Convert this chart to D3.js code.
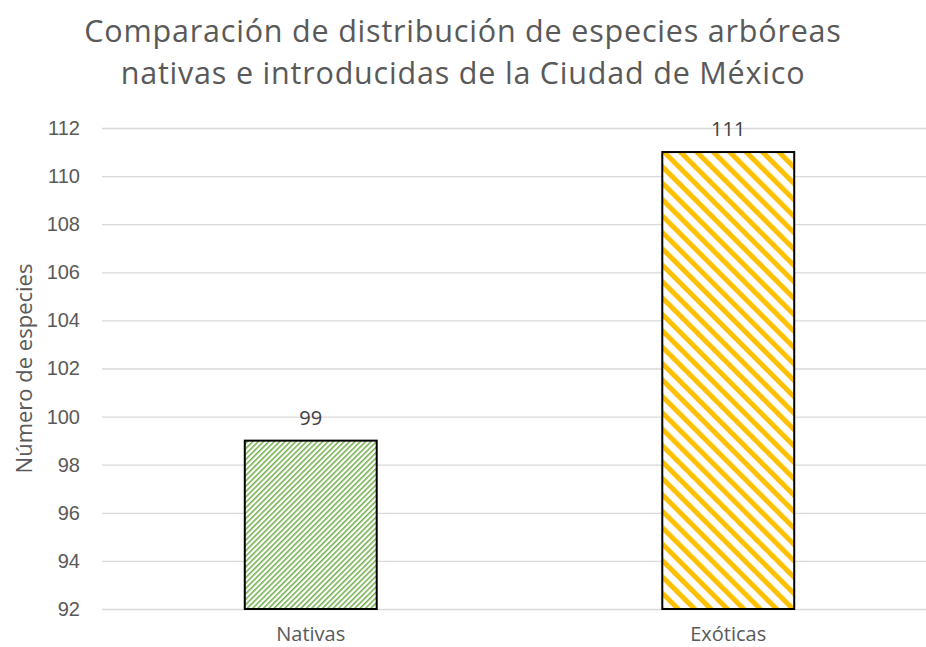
<!DOCTYPE html>
<html>
<head>
<meta charset="utf-8">
<script src="https://cdn.jsdelivr.net/npm/d3@7"></script>
<style>
  body { margin: 0; background: #fff; }
  svg { display: block; font-family: "Open Sans", sans-serif; }
</style>
</head>
<body>
<div id="chart"></div>
<script>
let categories = ['Nativas', 'Exóticas'];
let values = [99, 111];
let yTicks = [92, 94, 96, 98, 100, 102, 104, 106, 108, 110, 112];
let titleLines = ['Comparación de distribución de especies arbóreas', 'nativas e introducidas de la Ciudad de México'];

let width = 926;
let height = 647;
let margin = { top: 128, right: -11, bottom: 38, left: 102 };

let svg = d3.select('#chart')
    .append('svg')
    .attr('width', width)
    .attr('height', height);

let defs = svg.append('defs');

// dense upward diagonal, green
let gStep = 3.8;
let pGreen = defs.append('pattern')
    .attr('id', 'hatch-green')
    .attr('patternUnits', 'userSpaceOnUse')
    .attr('width', gStep)
    .attr('height', gStep)
    .attr('patternTransform', 'rotate(45)');
pGreen.append('rect').attr('width', gStep).attr('height', gStep).attr('fill', '#fff');
pGreen.append('rect')
    .attr('x', 0).attr('y', 0).attr('width', 1.5).attr('height', gStep)
    .attr('fill', '#70AD47');

// wide downward diagonal, orange
let oStep = 11.6;
let pOrange = defs.append('pattern')
    .attr('id', 'hatch-orange')
    .attr('patternUnits', 'userSpaceOnUse')
    .attr('width', oStep)
    .attr('height', oStep)
    .attr('patternTransform', 'rotate(-45)');
pOrange.append('rect').attr('width', oStep).attr('height', oStep).attr('fill', '#fff');
pOrange.append('rect')
    .attr('x', 0).attr('y', 0).attr('width', 5).attr('height', oStep)
    .attr('fill', '#FFC000');

let fills = ['url(#hatch-green)', 'url(#hatch-orange)'];

let x = d3.scaleBand()
    .domain(categories)
    .range([margin.left, width - margin.right])
    .paddingInner(0.684)
    .paddingOuter(0.342);

let y = d3.scaleLinear()
    .domain([92, 112])
    .range([height - margin.bottom, margin.top]);

// gridlines
svg.append('g')
    .attr('class', 'gridlines')
    .attr('transform', `translate(${margin.left}, 0)`)
    .call(d3.axisLeft(y).tickValues(yTicks).tickFormat('').tickSize(-(width - margin.right - margin.left)))
    .call(g => g.select('.domain').remove())
    .call(g => g.selectAll('line').attr('stroke', '#d9d9d9').attr('stroke-width', 1.3));

// y tick labels
svg.append('g')
    .attr('class', 'y-axis')
    .attr('transform', 'translate(80, 0)')
    .call(d3.axisLeft(y).tickValues(yTicks).tickSize(0).tickPadding(0))
    .call(g => g.select('.domain').remove())
    .call(g => g.selectAll('text')
        .attr('fill', '#595959')
        .style('font-size', '20px'));

// bars
svg.append('g')
    .selectAll('rect')
    .data(values)
    .join('rect')
    .attr('x', (d, i) => x(categories[i]))
    .attr('y', d => y(d))
    .attr('width', x.bandwidth())
    .attr('height', d => y(92) - y(d))
    .attr('fill', (d, i) => fills[i])
    .attr('stroke', '#000')
    .attr('stroke-width', 2);

// data labels
svg.append('g')
    .selectAll('text')
    .data(values)
    .join('text')
    .attr('x', (d, i) => x(categories[i]) + x.bandwidth() / 2)
    .attr('y', d => y(d) - 16)
    .attr('text-anchor', 'middle')
    .attr('fill', '#404040')
    .style('font-size', '20px')
    .text(d => d);

// x labels
svg.append('g')
    .selectAll('text')
    .data(categories)
    .join('text')
    .attr('x', d => x(d) + x.bandwidth() / 2)
    .attr('y', 641)
    .attr('text-anchor', 'middle')
    .attr('fill', '#595959')
    .style('font-size', '20px')
    .text(d => d);

// y axis title
svg.append('text')
    .attr('transform', `translate(32, ${(y(92) + y(112)) / 2}) rotate(-90)`)
    .attr('text-anchor', 'middle')
    .attr('fill', '#595959')
    .style('font-size', '22px')
    .text('Número de especies');

// title
svg.append('g')
    .selectAll('text')
    .data(titleLines)
    .join('text')
    .attr('x', 463)
    .attr('y', (d, i) => 42 + i * 42)
    .attr('text-anchor', 'middle')
    .attr('fill', '#595959')
    .style('font-size', '30.5px')
    .style('letter-spacing', '0.8px')
    .text(d => d);
</script>
</body>
</html>
